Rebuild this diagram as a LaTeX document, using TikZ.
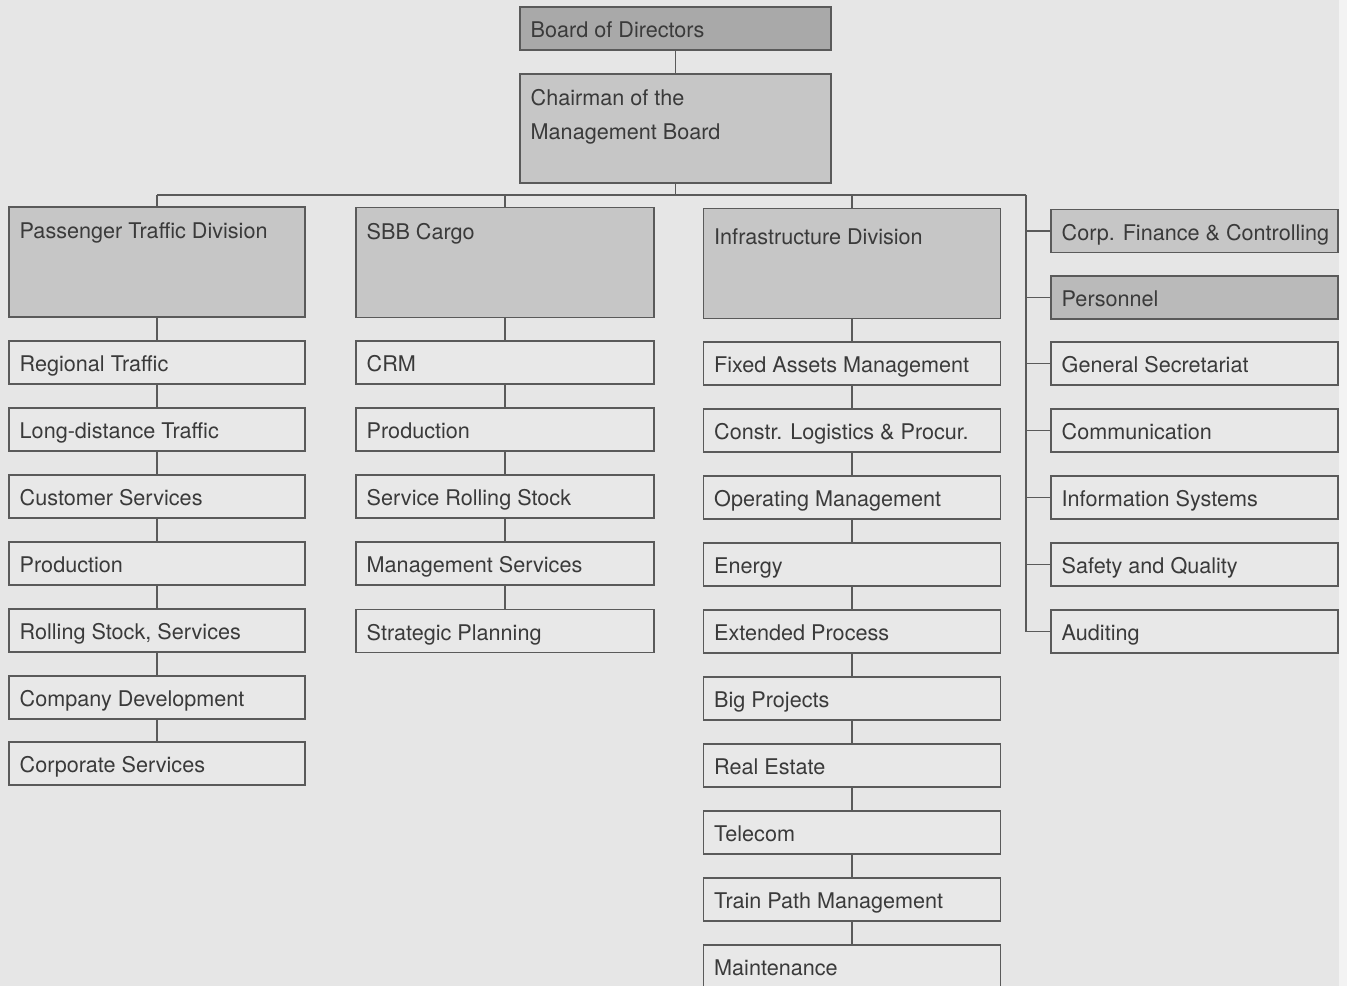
\documentclass[tikz,border=0pt]{standalone}
\usepackage{fontspec}
\setmainfont{TeX Gyre Heros}
\definecolor{bgc}{HTML}{E6E6E6}
\definecolor{whitec}{HTML}{E8E8E8}
\definecolor{boardc}{HTML}{A9A9A9}
\definecolor{divc}{HTML}{C6C6C6}
\definecolor{persc}{HTML}{BABABA}
\definecolor{linec}{HTML}{5A5A5A}
\definecolor{textc}{HTML}{3A3A3A}
\begin{document}
\begin{tikzpicture}[x=0.02cm,y=-0.02cm,
  box/.style={draw=linec, line width=0.75pt, fill=whitec, rectangle, inner sep=0pt, minimum height=0.86cm},
  colP/.style={box, minimum width=5.92cm},
  colC/.style={box, minimum width=5.96cm},
  colI/.style={box, minimum width=5.94cm},
  colS/.style={box, minimum width=5.74cm},
  divbox/.style={box, fill=divc, minimum height=2.2cm},
  txtbase/.style={anchor=base west, inner sep=0pt, xshift=0.22cm, font=\fontsize{12.3}{14}\selectfont, text=textc},
  txt/.style={txtbase, yshift=-0.19cm},
  conn/.style={draw=linec, line width=0.75pt}
]
\useasboundingbox (0,0) rectangle (1347,986);
\fill[bgc] (0,0) rectangle (1347,986);
\fill[white!50!bgc] (1339,0) rectangle (1347,986);

% top
\node[box, fill=boardc, minimum width=6.22cm, label={[txt]west:Board of Directors}] (board) at (675.5,28.5) {};
\node[box, fill=divc, minimum width=6.22cm, minimum height=2.18cm,
  label={[txtbase, yshift=-0.65cm]north west:Chairman of the},
  label={[txtbase, yshift=-1.33cm]north west:Management Board}] (chair) at (675.5,128.5) {};

% divisions
\node[divbox, minimum width=5.92cm, label={[txtbase, yshift=-0.65cm]north west:Passenger Traffic Division}] (pd) at (157,262) {};
\node[divbox, minimum width=5.96cm, label={[txtbase, yshift=-0.65cm]north west:SBB Cargo}] (cd) at (505,262.5) {};
\node[divbox, minimum width=5.94cm, label={[txtbase, yshift=-0.73cm]north west:Infrastructure Division}] (id) at (852,263.5) {};

% passenger column
\node[colP, label={[txt]west:Regional Traffic}] (p1) at (157,362.5) {};
\node[colP, label={[txt]west:Long-distance Traffic}] (p2) at (157,429.5) {};
\node[colP, label={[txt]west:Customer Services}] (p3) at (157,496.5) {};
\node[colP, label={[txt]west:Production}] (p4) at (157,563.5) {};
\node[colP, label={[txt]west:Rolling Stock, Services}] (p5) at (157,630.5) {};
\node[colP, label={[txt]west:Company Development}] (p6) at (157,697.5) {};
\node[colP, label={[txt]west:Corporate Services}] (p7) at (157,763.5) {};

% cargo column
\node[colC, label={[txt]west:CRM}] (c1) at (505,362.5) {};
\node[colC, label={[txt]west:Production}] (c2) at (505,429.5) {};
\node[colC, label={[txt]west:Service Rolling Stock}] (c3) at (505,496.5) {};
\node[colC, label={[txt]west:Management Services}] (c4) at (505,563.5) {};
\node[colC, label={[txt]west:Strategic Planning}] (c5) at (505,631) {};

% infrastructure column
\node[colI, label={[txt]west:Fixed Assets Management}] (i1) at (852,363.5) {};
\node[colI, label={[txt]west:Constr. Logistics \& Procur.}] (i2) at (852,430.5) {};
\node[colI, label={[txt]west:Operating Management}] (i3) at (852,497.5) {};
\node[colI, label={[txt]west:Energy}] (i4) at (852,564.5) {};
\node[colI, label={[txt]west:Extended Process}] (i5) at (852,631.5) {};
\node[colI, label={[txt]west:Big Projects}] (i6) at (852,698.5) {};
\node[colI, label={[txt]west:Real Estate}] (i7) at (852,765.5) {};
\node[colI, label={[txt]west:Telecom}] (i8) at (852,832.5) {};
\node[colI, label={[txt]west:Train Path Management}] (i9) at (852,899.5) {};
\node[colI, label={[txt]west:Maintenance}] (i10) at (852,966.5) {};

% staff column
\node[colS, fill=divc, label={[txt]west:Corp. Finance \& Controlling}] (s1) at (1194.5,231) {};
\node[colS, fill=persc, label={[txt]west:Personnel}] (s2) at (1194.5,297.5) {};
\node[colS, label={[txt]west:General Secretariat}] (s3) at (1194.5,363.5) {};
\node[colS, label={[txt]west:Communication}] (s4) at (1194.5,430.5) {};
\node[colS, label={[txt]west:Information Systems}] (s5) at (1194.5,497.5) {};
\node[colS, label={[txt]west:Safety and Quality}] (s6) at (1194.5,564.5) {};
\node[colS, label={[txt]west:Auditing}] (s7) at (1194.5,631.5) {};

% connectors
\coordinate (busL) at (157,195);
\coordinate (busR) at (1026,195);
\draw[conn] (board) -- (chair);
\draw[conn] (chair.south) -- (chair.south |- busL);
\draw[conn] (busL) -- (busR);
\draw[conn] (pd.north) -- (pd.north |- busL);
\draw[conn] (cd.north) -- (cd.north |- busL);
\draw[conn] (id.north) -- (id.north |- busL);
\draw[conn] (busR) |- (s7.west);
\foreach \s in {s1,s2,s3,s4,s5,s6} \draw[conn] (\s.west) -- (\s.west -| busR);

\draw[conn] (pd) -- (p1) -- (p2) -- (p3) -- (p4) -- (p5) -- (p6) -- (p7);
\draw[conn] (cd) -- (c1) -- (c2) -- (c3) -- (c4) -- (c5);
\draw[conn] (id) -- (i1) -- (i2) -- (i3) -- (i4) -- (i5) -- (i6) -- (i7) -- (i8) -- (i9) -- (i10);
\end{tikzpicture}
\end{document}
